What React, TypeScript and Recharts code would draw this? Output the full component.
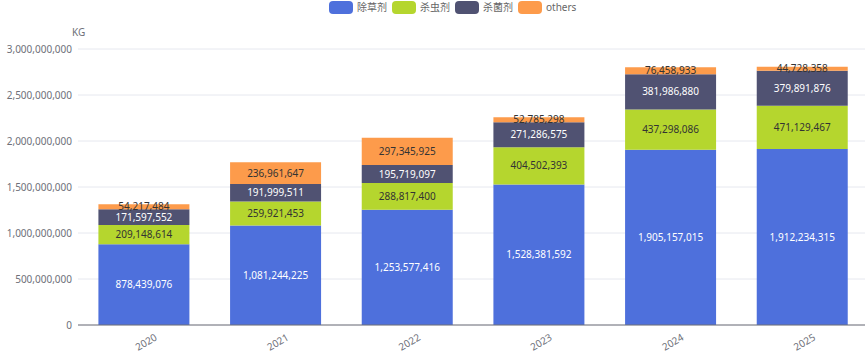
import React from 'react';
import { BarChart, Bar, XAxis, YAxis, CartesianGrid, LabelList } from 'recharts';

const years = ['2020', '2021', '2022', '2023', '2024', '2025'];
const herbicide = [878439076, 1081244225, 1253577416, 1528381592, 1905157015, 1912234315];
const insecticide = [209148614, 259921453, 288817400, 404502393, 437298086, 471129467];
const fungicide = [171597552, 191999511, 195719097, 271286575, 381986880, 379891876];
const others = [54217484, 236961647, 297345925, 52785298, 76458933, 44728358];
const yTicks = [0, 500000000, 1000000000, 1500000000, 2000000000, 2500000000, 3000000000];

const series = [
  { key: 'herbicide', name: '除草剂', color: '#4e70dc', label: '#ffffff' },
  { key: 'insecticide', name: '杀虫剂', color: '#b5d62e', label: '#333333' },
  { key: 'fungicide', name: '杀菌剂', color: '#505272', label: '#ffffff' },
  { key: 'others', name: 'others', color: '#fd9b4b', label: '#333333' },
];

const data = years.map((year, i) => ({
  year,
  herbicide: herbicide[i],
  insecticide: insecticide[i],
  fungicide: fungicide[i],
  others: others[i],
}));

const FONT = '"Noto Sans", "Noto Sans CJK SC", sans-serif';
const fmt = (v: number) => v.toLocaleString('en-US');

const XTick = (props: any) => {
  const { x, y, payload } = props;
  return (
    <text
      transform={`translate(${x + 12},${y + 3}) rotate(-30)`}
      textAnchor="end"
      dominantBaseline="central"
      fontSize={10}
      fill="#6e7079"
      fontFamily={FONT}
    >
      {payload.value}
    </text>
  );
};

export default function App() {
  return (
    <div style={{ position: 'absolute', top: 0, left: 0, width: 865, height: 352, overflow: 'hidden', fontFamily: FONT }}>
      {/* legend */}
      <div style={{ position: 'absolute', top: 1, left: 329, display: 'flex', alignItems: 'center', height: 13 }}>
        {series.map((s) => (
          <div key={s.key} style={{ display: 'flex', alignItems: 'center', marginRight: 5 }}>
            <div style={{ width: 24, height: 13, borderRadius: 4, background: s.color, marginRight: 4 }} />
            <span style={{ fontSize: 10, color: '#666', lineHeight: '13px' }}>{s.name}</span>
          </div>
        ))}
      </div>
      <div style={{ position: 'absolute', top: 25, left: 72, fontSize: 10, color: '#6e7079' }}>KG</div>
      <BarChart
        width={870}
        height={352}
        data={data}
        margin={{ top: 49, right: 2, left: 0, bottom: 0 }}
        barCategoryGap="15.5%"
      >
        <CartesianGrid horizontal vertical={false} stroke="#e6e8ef" />
        <XAxis
          dataKey="year"
          height={27}
          tickLine={false}
          axisLine={{ stroke: '#6e7079' }}
          tick={<XTick />}
          interval={0}
        />
        <YAxis
          width={78}
          domain={[0, 3000000000]}
          ticks={yTicks}
          axisLine={false}
          tickLine={false}
          tickMargin={0}
          tickFormatter={fmt}
          tick={{ fontSize: 10, fill: '#6e7079', fontFamily: FONT }}
        />
        {series.map((s) => (
          <Bar key={s.key} dataKey={s.key} name={s.name} stackId="a" fill={s.color} isAnimationActive={false}>
            <LabelList
              dataKey={s.key}
              position="center"
              formatter={(v: any) => fmt(Number(v))}
              fill={s.label}
              fontSize={10}
              fontFamily={FONT}
            />
          </Bar>
        ))}
      </BarChart>
    </div>
  );
}
